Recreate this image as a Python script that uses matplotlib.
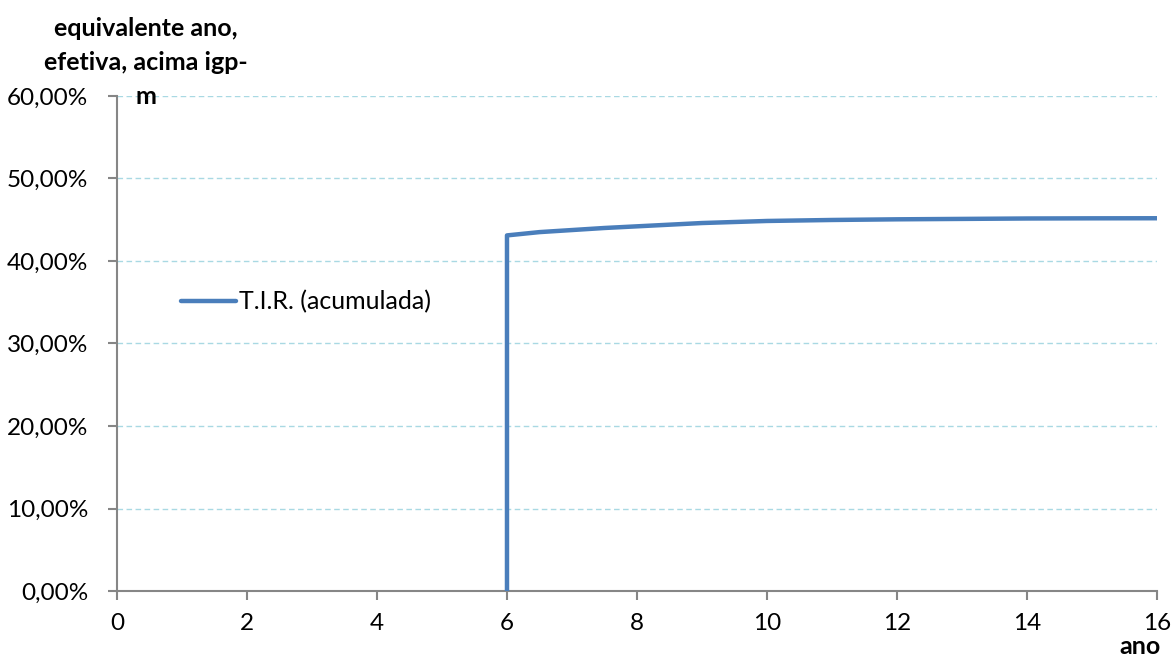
import matplotlib.pyplot as plt
from matplotlib.ticker import FuncFormatter

plt.rcParams['font.family'] = ['Lato', 'DejaVu Sans']

# T.I.R. acumulada por ano (fração)
anos = [6, 6, 6.5, 7, 7.5, 8, 9, 10, 11, 12, 13, 14, 15, 16]
tir = [0.0, 0.431, 0.435, 0.4375, 0.440, 0.442, 0.446, 0.4485, 0.4497, 0.4505, 0.451, 0.4515, 0.4517, 0.4518]
titulo_y = ['equivalente ano,', 'efetiva, acima igp-', 'm']

fig = plt.figure(figsize=(11.73, 6.66), dpi=100)
ax = fig.add_axes([0.0997, 0.1126, 0.8867, 0.7433])

ax.plot(anos, tir, color='#4A7EBB', lw=3.2, solid_joinstyle='round',
        solid_capstyle='round', label='T.I.R. (acumulada)', zorder=3)

ax.set_xlim(0, 16)
ax.set_ylim(0, 0.6)
ax.set_xticks(range(0, 17, 2))
ax.set_yticks([i / 10 for i in range(7)])
ax.yaxis.set_major_formatter(FuncFormatter(lambda v, p: f'{v*100:.2f}%'.replace('.', ',')))

ax.grid(axis='y', color='#A9D9E3', ls=(0, (4, 2.5)), lw=1)
ax.set_axisbelow(True)
for s in ['top', 'right']:
    ax.spines[s].set_visible(False)
for s in ['left', 'bottom']:
    ax.spines[s].set_color('#868686')
    ax.spines[s].set_linewidth(1.5)
ax.tick_params(colors='#868686', labelcolor='black', labelsize=17.5, length=6.5, width=1.5)
ax.tick_params(axis='x', pad=9)
ax.tick_params(axis='y', pad=14)

# titulo do eixo y, uma linha por texto
for i, linha in enumerate(titulo_y):
    fig.text(0.124, 0.957 - i * 0.051, linha, ha='center', va='center',
             fontsize=18, fontweight='bold')
fig.text(0.972, 0.03, 'ano', ha='center', va='center', fontsize=18, fontweight='bold')

ax.legend(loc='center left', bbox_to_anchor=(0.052, 0.584), frameon=False,
          fontsize=18, handlelength=2.2, handletextpad=0.1, borderaxespad=0)

fig.savefig('out.png', dpi=100)
